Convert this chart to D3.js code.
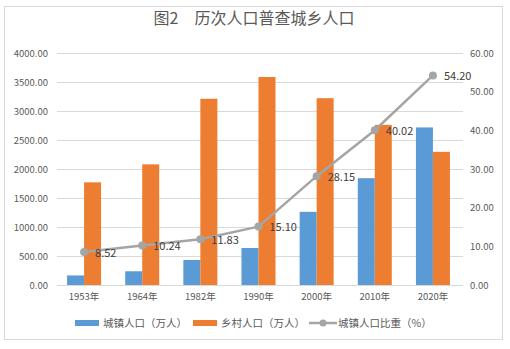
<!DOCTYPE html>
<html>
<head>
<meta charset="utf-8">
<script src="https://cdn.jsdelivr.net/npm/d3@7/dist/d3.min.js"></script>
<style>
  body { margin: 0; background: #fff; }
  svg text { font-family: "Noto Sans CJK SC", "Noto Sans", sans-serif; }
</style>
</head>
<body>
<div id="chart"></div>
<script>
// chart data
const years = ["1953年", "1964年", "1982年", "1990年", "2000年", "2010年", "2020年"];
const urban = [165, 237, 431, 638, 1262, 1842, 2717];
const rural = [1770, 2080, 3211, 3586, 3221, 2761, 2296];
const urbanRate = [8.52, 10.24, 11.83, 15.10, 28.15, 40.02, 54.20];
const leftTicks = [0, 500, 1000, 1500, 2000, 2500, 3000, 3500, 4000];
const rightTicks = [0, 10, 20, 30, 40, 50, 60];
const seriesNames = ["城镇人口（万人）", "乡村人口（万人）", "城镇人口比重（%）"];

const width = 510, height = 349;
const colors = { urban: "#5B9BD5", rural: "#ED7D31", rate: "#A5A5A5" };

const svg = d3.select("#chart").append("svg")
    .attr("width", width)
    .attr("height", height);

// outer frame
svg.append("rect")
    .attr("x", 4.5).attr("y", 6.5)
    .attr("width", 498).attr("height", 333)
    .attr("fill", "#fff")
    .attr("stroke", "#D9D9D9");

// title
svg.append("text")
    .attr("x", 254).attr("y", 24)
    .attr("text-anchor", "middle")
    .style("font-size", "16px")
    .attr("fill", "#595959")
    .text("图2\u3000历次人口普查城乡人口");

const x = d3.scaleBand().domain(years).range([55, 462]);
const yL = d3.scaleLinear().domain([0, 4000]).range([285, 53]);
const yR = d3.scaleLinear().domain([0, 60]).range([285, 53]);

// gridlines
svg.append("g")
    .selectAll("line")
    .data(leftTicks)
    .enter().append("line")
    .attr("x1", 57).attr("x2", 463)
    .attr("y1", d => Math.round(yL(d)) + 0.5)
    .attr("y2", d => Math.round(yL(d)) + 0.5)
    .attr("stroke", "#D9D9D9");

// left axis
const leftAxis = svg.append("g")
    .attr("transform", "translate(48,0)")
    .call(d3.axisLeft(yL).tickValues(leftTicks).tickFormat(d3.format(".2f")).tickSize(0).tickPadding(0));
leftAxis.select(".domain").remove();
leftAxis.selectAll("text").attr("fill", "#595959").style("font-size", "9.5px");

// right axis
const rightAxis = svg.append("g")
    .attr("transform", "translate(470,0)")
    .call(d3.axisRight(yR).tickValues(rightTicks).tickFormat(d3.format(".2f")).tickSize(0).tickPadding(0));
rightAxis.select(".domain").remove();
rightAxis.selectAll("text").attr("fill", "#595959").style("font-size", "9.5px");

// x axis labels
const xAxis = svg.append("g")
    .attr("transform", "translate(0,293)")
    .call(d3.axisBottom(x).tickSize(0).tickPadding(0));
xAxis.select(".domain").remove();
xAxis.selectAll("text").attr("fill", "#595959").style("font-size", "9.5px");

// bars
const barW = 17;
const bars = svg.append("g");
bars.selectAll(".urban")
    .data(urban)
    .enter().append("rect")
    .attr("class", "urban")
    .attr("x", (d, i) => x(years[i]) + x.bandwidth() / 2 - barW)
    .attr("y", d => yL(d))
    .attr("width", barW)
    .attr("height", d => yL(0) - yL(d))
    .attr("fill", colors.urban);
bars.selectAll(".rural")
    .data(rural)
    .enter().append("rect")
    .attr("class", "rural")
    .attr("x", (d, i) => x(years[i]) + x.bandwidth() / 2)
    .attr("y", d => yL(d))
    .attr("width", barW)
    .attr("height", d => yL(0) - yL(d))
    .attr("fill", colors.rural);

// rate line
const cx = (d, i) => x(years[i]) + x.bandwidth() / 2;
const line = d3.line()
    .x((d, i) => cx(d, i))
    .y(d => yR(d));

svg.append("path")
    .datum(urbanRate)
    .attr("d", line)
    .attr("fill", "none")
    .attr("stroke", colors.rate)
    .attr("stroke-width", 2.5)
    .attr("stroke-linejoin", "round");

svg.append("g")
    .selectAll("circle")
    .data(urbanRate)
    .enter().append("circle")
    .attr("cx", cx)
    .attr("cy", d => yR(d))
    .attr("r", 4)
    .attr("fill", colors.rate);

svg.append("g")
    .selectAll("text")
    .data(urbanRate)
    .enter().append("text")
    .attr("x", (d, i) => cx(d, i) + 11)
    .attr("y", d => yR(d) + 4.5)
    .attr("fill", "#404040")
    .style("font-size", "11px")
    .text(d => d.toFixed(2));

// legend
const legend = svg.append("g").attr("transform", "translate(0,323)");
legend.append("rect").attr("x", 75).attr("y", -3).attr("width", 24).attr("height", 6).attr("fill", colors.urban);
legend.append("rect").attr("x", 193).attr("y", -3).attr("width", 24).attr("height", 6).attr("fill", colors.rural);
legend.append("line").attr("x1", 309).attr("x2", 337).attr("y1", 0).attr("y2", 0)
    .attr("stroke", colors.rate).attr("stroke-width", 2.5);
legend.append("circle").attr("cx", 323).attr("cy", 0).attr("r", 3.5).attr("fill", colors.rate);

const legendX = [103, 221, 338];
legend.selectAll(".ltext")
    .data(seriesNames)
    .enter().append("text")
    .attr("class", "ltext")
    .attr("x", (d, i) => legendX[i])
    .attr("y", 4)
    .attr("fill", "#595959")
    .style("font-size", "10.5px")
    .text(d => d);
</script>
</body>
</html>
